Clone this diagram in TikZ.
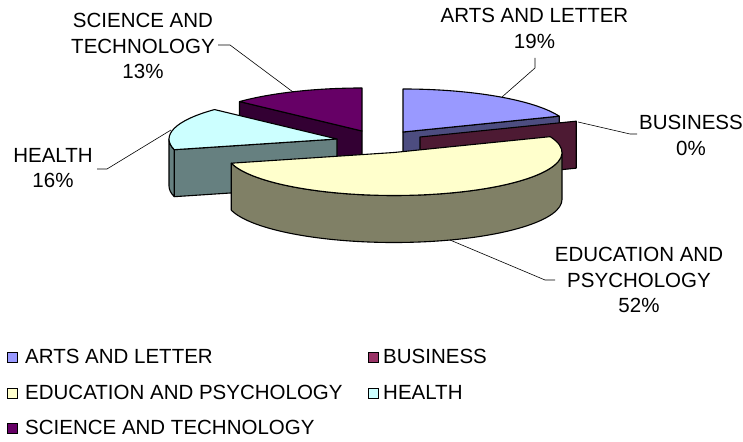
\documentclass[tikz,border=0pt]{standalone}
\usepackage{fontspec}
\setmainfont{Liberation Sans}
\usetikzlibrary{calc}
\definecolor{artsT}{HTML}{9999FF}
\definecolor{artsS}{HTML}{4D4D80}
\definecolor{busT}{HTML}{993366}
\definecolor{busS}{HTML}{4D1A33}
\definecolor{eduT}{HTML}{FFFFCC}
\definecolor{eduS}{HTML}{808066}
\definecolor{heaT}{HTML}{CCFFFF}
\definecolor{heaS}{HTML}{668080}
\definecolor{sciT}{HTML}{660066}
\definecolor{sciS}{HTML}{330033}
\tikzset{
  face/.style={draw=black, line width=1.1pt, line join=round},
  ell/.style={x radius=168pt, y radius=43pt},
  lbl/.style={inner sep=0pt, align=center, font=\fontsize{20.5}{25.5}\selectfont},
  ltx/.style={inner sep=0pt, anchor=base west, font=\fontsize{20.5}{25.5}\selectfont},
  lsq/.style={draw=black, line width=0.5pt, minimum size=10pt, inner sep=0pt},
  conn/.style={draw=black, line width=0.6pt}
}
\begin{document}
\begin{tikzpicture}[x=1pt,y=1pt]
\useasboundingbox[fill=white] (0,0) rectangle (743,441);
% centres
\coordinate (sc) at (362,310);
\coordinate (ac) at (403,309);
\coordinate (bc) at (420,304);
\coordinate (hc) at (337,302);
\coordinate (ec) at (394,288.5);
% science and technology
\path[face, fill=sciS] (sc) -- ++(136.8:168pt and 43pt) -- ++(0,-47) -- ($(sc)+(0,-47)$) -- cycle;
\path[face, fill=sciT] (sc) -- ++(90:168pt and 43pt) arc[start angle=90, end angle=136.8, ell] -- cycle;
% arts and letter
\path[face, fill=artsS] (ac) -- ++(21.6:168pt and 43pt) -- ++(0,-47) -- ($(ac)+(0,-47)$) -- cycle;
\path[face, fill=artsT] (ac) -- ++(90:168pt and 43pt) arc[start angle=90, end angle=21.6, ell] -- cycle;
% business
\path[face, fill=busS] (bc) -- ++(21.6:168pt and 43pt) -- ++(0,-47) -- ($(bc)+(0,-47)$) -- cycle;
% health
\path[face, fill=heaS] (hc) -- ++(194.4:168pt and 43pt) -- ++(0,-47) -- ($(hc)+(0,-47)$) -- cycle;
\path[face, fill=heaS] ($(hc)+(180:168pt and 43pt)$) arc[start angle=180, end angle=194.4, ell] -- ++(0,-47) arc[start angle=194.4, end angle=180, ell] -- cycle;
\path[face, fill=heaT] (hc) -- ++(136.8:168pt and 43pt) arc[start angle=136.8, end angle=194.4, ell] -- cycle;
% education and psychology
\path[face, fill=eduS] ($(ec)+(0:168pt and 43pt)$) arc[start angle=0, end angle=-165.6, ell] -- ++(0,-47) arc[start angle=-165.6, end angle=0, ell] -- cycle;
\path[face, fill=eduT] (ec) -- ++(21.6:168pt and 43pt) arc[start angle=21.6, end angle=-165.6, ell] -- cycle;
% data labels
\node[lbl, anchor=north] (lArts) at (534.5,433) {ARTS AND LETTER\\19\%};
\node[lbl, anchor=north] (lBus) at (691,326) {BUSINESS\\0\%};
\node[lbl, anchor=north] (lEdu) at (639,194) {EDUCATION AND\\PSYCHOLOGY\\52\%};
\node[lbl, anchor=north] (lHea) at (53,293) {HEALTH\\16\%};
\node[lbl, anchor=north] (lSci) at (143,428) {SCIENCE AND\\TECHNOLOGY\\13\%};
% connectors
\coordinate (a1) at (535,383); \coordinate (a2) at (535,373); \coordinate (a3) at (502,344);
\coordinate (b1) at (637,307); \coordinate (b2) at (630,307); \coordinate (b3) at (578,319);
\coordinate (e1) at (555,161); \coordinate (e2) at (545,161); \coordinate (e3) at (450,201);
\coordinate (h1) at (97,272); \coordinate (h2) at (107,272); \coordinate (h3) at (171,311);
\coordinate (s1) at (218,396); \coordinate (s2) at (230,396); \coordinate (s3) at (293,349);
\draw[conn] (a1) -- (a2) -- (a3);
\draw[conn] (b1) -- (b2) -- (b3);
\draw[conn] (e1) -- (e2) -- (e3);
\draw[conn] (h1) -- (h2) -- (h3);
\draw[conn] (s1) -- (s2) -- (s3);
% legend
\node[lsq, fill=artsT] (g1) at (12,84) {};
\node[ltx] (t1) at (25,77) {ARTS AND LETTER};
\node[lsq, fill=busT] (g2) at (373,84) {};
\node[ltx] (t2) at (383,77) {BUSINESS};
\node[lsq, fill=eduT] (g3) at (12,48) {};
\node[ltx] (t3) at (25,41.5) {EDUCATION AND PSYCHOLOGY};
\node[lsq, fill=heaT] (g4) at (373,48) {};
\node[ltx] (t4) at (383,41.5) {HEALTH};
\node[lsq, fill=sciT] (g5) at (12,13) {};
\node[ltx] (t5) at (25,6.5) {SCIENCE AND TECHNOLOGY};
\end{tikzpicture}
\end{document}
